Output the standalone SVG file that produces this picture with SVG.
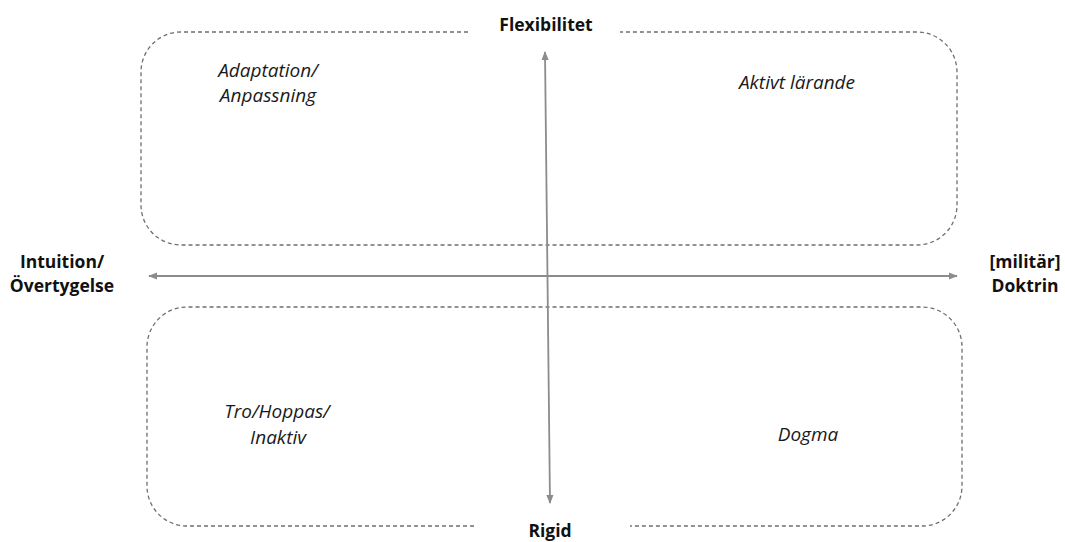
<svg xmlns="http://www.w3.org/2000/svg" width="1065" height="542" viewBox="0 0 1065 542">
<defs>
<style>
.box{fill:none;stroke:#6f6f6f;stroke-width:1.3;stroke-dasharray:4 3}
.ax{stroke:#8c8c8c;stroke-width:1.8;fill:none}
.q{font-family:"Open Sans","Liberation Sans",sans-serif;font-style:italic;font-size:19px;fill:#1a1a1a;text-anchor:middle}
.b{font-family:"Open Sans","Liberation Sans",sans-serif;font-weight:bold;font-size:17.5px;fill:#111;text-anchor:middle}
</style>
<marker id="ah" viewBox="0 0 10 10" refX="9" refY="5" markerWidth="5" markerHeight="5" orient="auto-start-reverse">
<path d="M0,1 L10,5 L0,9 Z" fill="#8c8c8c"/>
</marker>
</defs>
<rect width="1065" height="542" fill="#fff"/>
<g id="quadrant-top">
<path class="box" d="M468 32 H181 A40 40 0 0 0 141 72 V205 A40 40 0 0 0 181 245 H917 A40 40 0 0 0 957 205 V72 A40 40 0 0 0 917 32 H620"/>
<text class="q" x="268" y="77">Adaptation/</text>
<text class="q" x="268" y="102">Anpassning</text>
<text class="q" x="797" y="89">Aktivt lärande</text>
</g>
<g id="quadrant-bottom">
<path class="box" d="M474 526 H187 A40 40 0 0 1 147 486 V347 A40 40 0 0 1 187 307 H922 A40 40 0 0 1 962 347 V486 A40 40 0 0 1 922 526 H630"/>
<text class="q" x="277" y="418">Tro/Hoppas/</text>
<text class="q" x="278" y="444">Inaktiv</text>
<text class="q" x="808" y="441">Dogma</text>
</g>
<g id="connectors">
<line class="ax" x1="545" y1="52" x2="550" y2="503" marker-start="url(#ah)" marker-end="url(#ah)"/>
<line class="ax" x1="149" y1="276" x2="957" y2="276" marker-start="url(#ah)" marker-end="url(#ah)"/>
</g>
<g id="label-top"><text class="b" x="546" y="31">Flexibilitet</text></g>
<g id="label-bottom"><text class="b" x="550" y="537">Rigid</text></g>
<g id="label-left">
<text class="b" x="62" y="268">Intuition/</text>
<text class="b" x="62" y="292">Övertygelse</text>
</g>
<g id="label-right">
<text class="b" x="1025" y="268">[militär]</text>
<text class="b" x="1025" y="292">Doktrin</text>
</g>
</svg>
